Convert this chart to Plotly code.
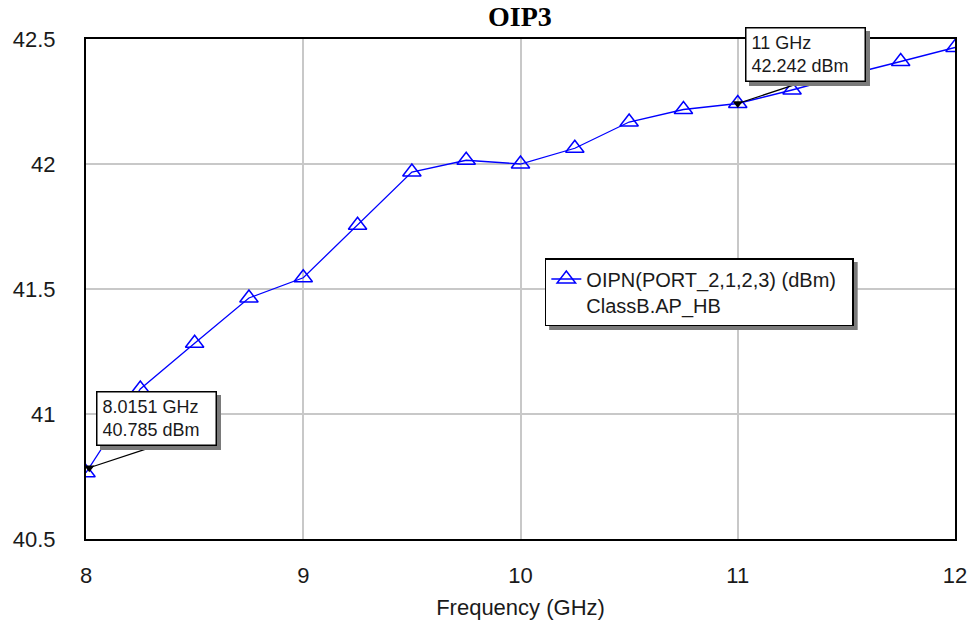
import plotly.graph_objects as go

# ---- data ----
freq_ghz = [8.0, 8.25, 8.5, 8.75, 9.0, 9.25, 9.5, 9.75, 10.0, 10.25, 10.5, 10.75, 11.0, 11.25, 11.5, 11.75, 12.0]
oip3_dbm = [40.765, 41.10, 41.283, 41.464, 41.545, 41.755, 41.968, 42.015, 42.0, 42.063, 42.168, 42.218, 42.242, 42.296, 42.355, 42.41, 42.466]

marker_freq = [8.0151, 11.0]
marker_val = [40.785, 42.242]
marker_text = ["8.0151 GHz<br>40.785 dBm", "11 GHz<br>42.242 dBm"]

x_ticks = [8, 9, 10, 11, 12]
y_ticks = [40.5, 41, 41.5, 42, 42.5]
y_tick_labels = ["40.5", "41", "41.5", "42", "42.5"]

series_lines = ["OIPN(PORT_2,1,2,3) (dBm)", "ClassB.AP_HB"]

BLUE = "#0000FF"
FONT = "Liberation Sans"
TXT = "#1a1a1a"
SHADOW = "#7a7a7a"

# trailing non-breaking spaces only pad the legend box to the reference width
legend_name = (series_lines[0] + "&nbsp;&nbsp;") + "<br>" + series_lines[1]

fig = go.Figure()

fig.add_trace(go.Scatter(
    x=freq_ghz, y=oip3_dbm, mode="lines+markers", name=legend_name,
    line=dict(color=BLUE, width=1.3),
    marker=dict(symbol="triangle-up-open", size=16, color=BLUE, line=dict(width=1.5, color=BLUE)),
))

fig.add_trace(go.Scatter(
    x=marker_freq, y=marker_val, mode="markers", showlegend=False,
    marker=dict(symbol="triangle-down", size=9, color="black"),
    cliponaxis=False,
))

annotations = []
for fx, fv, txt in zip(marker_freq, marker_val, marker_text):
    # leader line
    annotations.append(dict(
        x=fx, y=fv, xref="x", yref="y", text="", showarrow=True,
        ax=58, ay=-19, arrowhead=0, arrowwidth=1.3, arrowcolor="black", standoff=0,
    ))
    # drop shadow of the readout box
    annotations.append(dict(
        x=fx, y=fv, xref="x", yref="y", text=" ", showarrow=False,
        xanchor="left", yanchor="bottom", xshift=11, yshift=18,
        width=108, height=42,
        font=dict(family=FONT, size=18, color=SHADOW),
        bgcolor=SHADOW, bordercolor=SHADOW, borderwidth=1.5, borderpad=5,
    ))
    # readout box
    annotations.append(dict(
        x=fx, y=fv, xref="x", yref="y", text=txt, showarrow=False,
        xanchor="left", yanchor="bottom", align="left", xshift=7, yshift=22,
        width=108, height=42,
        font=dict(family=FONT, size=18, color=TXT),
        bgcolor="white", bordercolor="black", borderwidth=1.5, borderpad=5,
    ))

fig.update_layout(
    width=979, height=632,
    margin=dict(l=86, r=22, t=39, b=93),
    paper_bgcolor="white", plot_bgcolor="white",
    title=dict(text="<b>OIP3</b>", x=0.531, xanchor="center", y=0.975, yanchor="middle",
               font=dict(family="Liberation Serif", size=28, color="black")),
    font=dict(family=FONT, color=TXT),
    showlegend=True,
    legend=dict(
        x=0.528, y=0.562, xanchor="left", yanchor="top",
        bgcolor="white", bordercolor="black", borderwidth=1.5,
        font=dict(family=FONT, size=20, color=TXT),
        valign="top", itemwidth=30,
    ),
    annotations=annotations,
    shapes=[dict(type="rect", xref="paper", yref="paper",
                 x0=0.533, x1=0.888, y0=0.418, y1=0.554,
                 fillcolor=SHADOW, line=dict(width=0), layer="above")],
)

fig.update_xaxes(
    range=[8, 12], tickvals=x_ticks, ticktext=[str(v) for v in x_ticks],
    showgrid=True, gridcolor="#c8c8c8", gridwidth=1.5,
    showline=True, linecolor="black", linewidth=2, mirror=True,
    ticks="", ticklabelstandoff=16, zeroline=False,
    tickfont=dict(family=FONT, size=22, color=TXT),
    title=dict(text="Frequency (GHz)", font=dict(family=FONT, size=22, color=TXT), standoff=12),
)
fig.update_yaxes(
    range=[40.5, 42.5], tickvals=y_ticks, ticktext=y_tick_labels,
    showgrid=True, gridcolor="#c8c8c8", gridwidth=1.5,
    showline=True, linecolor="black", linewidth=2, mirror=True,
    ticks="", ticklabelstandoff=24, zeroline=False,
    tickfont=dict(family=FONT, size=22, color=TXT),
)

fig.write_html("out.html")
